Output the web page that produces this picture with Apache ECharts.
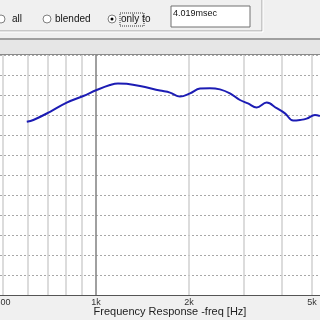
<!DOCTYPE html>
<html>
<head>
<meta charset="utf-8">
<script src="https://cdn.jsdelivr.net/npm/echarts@6/dist/echarts.min.js"></script>
<style>
  html, body { margin: 0; padding: 0; background: #f0f0f0; }
  #chart { width: 320px; height: 320px; }
</style>
</head>
<body>
<div id="chart"></div>
<script>
// frequency (Hz) and level (arbitrary dB)
const freqs = [597, 627, 710, 804, 910, 1005, 1110, 1178, 1257, 1388, 1611, 1736, 1870, 2015, 2171, 2339, 2519, 2714, 2924, 3104, 3312, 3568, 3844, 4090, 4350, 4574, 4807, 5113, 5307]
const levels = [43.3, 43.75, 45.8, 48.1, 49.75, 51.25, 52.5, 52.9, 52.8, 52.25, 51.1, 50.6, 49.6, 50.4, 51.6, 51.7, 51.4, 50.4, 48.75, 47.9, 46.9, 48.1, 46.7, 45.4, 43.6, 43.75, 44.1, 45, 44.75]
const minorGrid = [500, 600, 700, 800, 900, 2000, 3000, 4000, 5000]
const majorGrid = [1000]
const tickValues = [500, 1000, 2000, 5000]
const tickLabels = ['500', '1k', '2k', '5k']

const chart = echarts.init(document.getElementById('chart'), null, { renderer: 'canvas' })

const points = freqs.map((f, i) => [f, levels[i]])
const uiFont = '10px "Liberation Sans"'

const option = {
  animation: false,
  backgroundColor: '#f0f0f0',
  grid: {
    left: 0, right: 0, top: 55, bottom: 25,
    outerBoundsMode: 'none', containLabel: false,
    show: true, backgroundColor: '#ffffff', borderWidth: 0,
  },
  xAxis: {
    type: 'log',
    logBase: 10,
    min: 489,
    max: 5310,
    axisLine: { show: true, lineStyle: { color: '#555555', width: 1 } },
    axisTick: { show: false },
    splitLine: { show: false },
    axisLabel: {
      customValues: tickValues,
      color: '#333333',
      fontSize: 9,
      fontFamily: 'Liberation Sans',
      margin: 3,
      hideOverlap: false,
      showMinLabel: true,
      showMaxLabel: true,
      formatter: (v) => tickLabels[tickValues.indexOf(Math.round(v))] || '',
    },
  },
  yAxis: {
    type: 'value',
    min: 0,
    max: 60,
    interval: 5,
    axisLine: { show: false },
    axisTick: { show: false },
    axisLabel: { show: false },
    splitLine: { show: true, lineStyle: { color: '#a8a8a8', type: [2, 2], width: 1 } },
  },
  series: [
    {
      type: 'line',
      data: points,
      symbol: 'none',
      smooth: 0.4,
      lineStyle: { color: '#1c1cb4', width: 2 },
      z: 5,
      markLine: {
        silent: true,
        symbol: 'none',
        label: { show: false },
        animation: false,
        data: [
          ...minorGrid.map((v) => ({ xAxis: v, lineStyle: { color: '#d0d0d0', width: 1.5, type: 'solid' } })),
          ...majorGrid.map((v) => ({ xAxis: v, lineStyle: { color: '#808080', width: 1.5, type: 'solid' } })),
        ],
      },
    },
  ],
  graphic: [
    // band under the control panel
    { type: 'rect', shape: { x: 0, y: 38, width: 320, height: 2 }, style: { fill: '#a0a0a0' }, silent: true },
    { type: 'rect', shape: { x: 0, y: 40, width: 320, height: 14 }, style: { fill: '#e6e6e6' }, silent: true },
    { type: 'rect', shape: { x: 0, y: 54, width: 320, height: 1 }, style: { fill: '#8a8a8a' }, silent: true },
    // group box bottom / right edge
    { type: 'polyline', shape: { points: [[0, 31], [262, 31], [262, 0]] }, style: { stroke: '#a0a0a0', fill: null, lineWidth: 1 }, silent: true },
    { type: 'polyline', shape: { points: [[0, 32], [263, 32], [263, 0]] }, style: { stroke: '#ffffff', fill: null, lineWidth: 1 }, silent: true },
    // radio buttons
    { type: 'circle', shape: { cx: 1, cy: 19, r: 4 }, style: { fill: '#ffffff', stroke: '#808080', lineWidth: 1 }, silent: true },
    { type: 'text', style: { x: 12, y: 19, text: 'all', fill: '#111111', font: uiFont, verticalAlign: 'middle' }, silent: true },
    { type: 'circle', shape: { cx: 47, cy: 19, r: 4 }, style: { fill: '#ffffff', stroke: '#808080', lineWidth: 1 }, silent: true },
    { type: 'text', style: { x: 55, y: 19, text: 'blended', fill: '#111111', font: uiFont, verticalAlign: 'middle' }, silent: true },
    { type: 'circle', shape: { cx: 112, cy: 19, r: 4 }, style: { fill: '#ffffff', stroke: '#808080', lineWidth: 1 }, silent: true },
    { type: 'circle', shape: { cx: 112, cy: 19, r: 1.5 }, style: { fill: '#000000' }, silent: true },
    { type: 'rect', shape: { x: 120, y: 13, width: 24, height: 13 }, style: { fill: null, stroke: '#333333', lineWidth: 1, lineDash: [1, 1] }, silent: true },
    { type: 'text', style: { x: 121, y: 19.5, text: 'only to', fill: '#111111', font: uiFont, verticalAlign: 'middle' }, silent: true },
    // text box
    { type: 'rect', shape: { x: 171, y: 6, width: 79, height: 21 }, style: { fill: '#ffffff', stroke: '#707070', lineWidth: 1 }, silent: true },
    { type: 'text', style: { x: 173, y: 14, text: '4.019msec', fill: '#111111', font: '9px "Liberation Sans"', verticalAlign: 'middle' }, silent: true },
    // axis title
    { type: 'text', style: { x: 170, y: 312, text: 'Frequency Response -freq [Hz]', fill: '#222222', font: '11px "Liberation Sans"', align: 'center', verticalAlign: 'middle' }, silent: true },
  ],
}

chart.setOption(option)
</script>
</body>
</html>
